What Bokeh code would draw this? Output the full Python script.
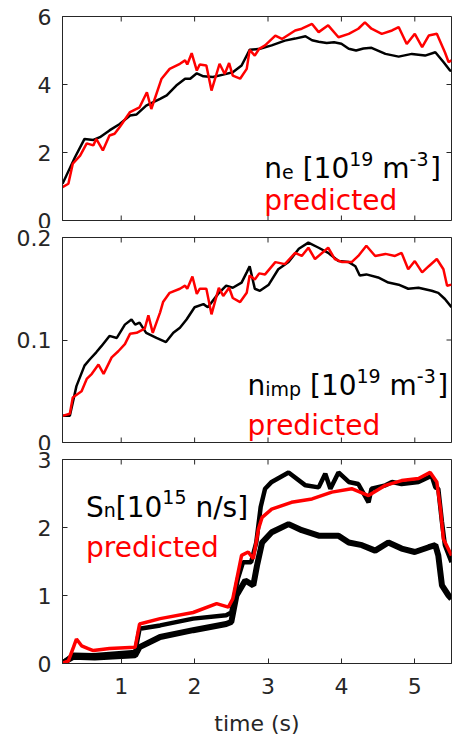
import math
from bokeh.plotting import figure
from bokeh.models import ColumnDataSource, FixedTicker, Range1d
from bokeh.layouts import column
from bokeh.embed import file_html
from bokeh.resources import INLINE
from bokeh.core.properties import value

# ---------------- data ----------------
x_range_vals = [0.2, 5.5]
x_ticks = [1, 2, 3, 4, 5]
x_tick_labels = ["1", "2", "3", "4", "5"]
x_label = "time (s)"

ne_range = [0, 6]
ne_ticks = [0, 2, 4, 6]
ne_tick_labels = ["0", "2", "4", "6"]
nimp_range = [0, 0.2]
nimp_ticks = [0, 0.1, 0.2]
nimp_tick_labels = ["0", "0.1", "0.2"]
sn_range = [0, 3]
sn_ticks = [0, 1, 2, 3]
sn_tick_labels = ["0", "1", "2", "3"]

# panel 1: electron density n_e [1e19 m^-3]
ne_meas_t = [0.20, 0.37, 0.50, 0.62, 0.71, 0.84, 0.98, 1.12, 1.21, 1.34, 1.53, 1.62, 1.75, 1.87, 1.94,
             2.03, 2.12, 2.25, 2.39, 2.52, 2.64, 2.75, 2.89, 3.05, 3.23, 3.37, 3.51, 3.60, 3.69, 3.80,
             3.90, 4.00, 4.10, 4.20, 4.30, 4.41, 4.60, 4.78, 4.96, 5.14, 5.28, 5.39, 5.48, 5.50]
ne_meas = [1.08, 1.86, 2.40, 2.37, 2.45, 2.65, 2.84, 3.09, 3.12, 3.38, 3.58, 3.68, 3.97, 4.17, 4.17,
           4.33, 4.24, 4.22, 4.29, 4.36, 4.56, 5.02, 5.05, 5.15, 5.29, 5.35, 5.42, 5.30, 5.26, 5.22,
           5.24, 5.20, 5.05, 5.00, 5.06, 5.08, 4.90, 4.82, 4.90, 4.85, 4.95, 4.66, 4.41, 4.40]
ne_pred_t = [0.20, 0.28, 0.34, 0.44, 0.53, 0.62, 0.66, 0.75, 0.84, 0.91, 0.98, 1.12, 1.25, 1.35, 1.41,
             1.55, 1.66, 1.80, 1.87, 1.90, 1.96, 2.03, 2.07, 2.16, 2.23, 2.34, 2.41, 2.47, 2.52, 2.62,
             2.71, 2.75, 2.82, 2.88, 2.96, 3.10, 3.19, 3.37, 3.46, 3.60, 3.69, 3.82, 3.96, 4.10, 4.23,
             4.32, 4.41, 4.55, 4.69, 4.78, 4.89, 5.00, 5.10, 5.19, 5.30, 5.41, 5.46, 5.50]
ne_pred = [0.98, 1.08, 1.67, 1.91, 2.27, 2.21, 2.40, 2.06, 2.50, 2.55, 2.75, 3.19, 3.33, 3.77, 3.28,
           4.17, 4.46, 4.61, 4.71, 4.59, 4.92, 4.41, 4.59, 4.56, 3.82, 4.61, 4.31, 4.63, 4.26, 4.17,
           4.46, 5.02, 4.85, 5.05, 5.15, 5.44, 5.34, 5.59, 5.64, 5.78, 5.54, 5.74, 5.39, 5.49, 5.64,
           5.83, 5.64, 5.49, 5.59, 5.69, 5.19, 5.49, 5.10, 5.44, 5.49, 4.95, 4.66, 4.71]

# panel 2: impurity density n_imp [1e19 m^-3]
nimp_meas_t = [0.20, 0.30, 0.39, 0.50, 0.57, 0.66, 0.73, 0.84, 0.94, 1.05, 1.14, 1.19, 1.25, 1.34, 1.48,
               1.61, 1.71, 1.80, 1.89, 2.00, 2.12, 2.18, 2.32, 2.43, 2.52, 2.64, 2.71, 2.75, 2.82, 2.89,
               3.01, 3.14, 3.28, 3.42, 3.55, 3.69, 3.82, 3.96, 4.10, 4.19, 4.25, 4.34, 4.50, 4.64, 4.78,
               4.91, 5.05, 5.23, 5.32, 5.41, 5.50]
nimp_meas = [0.026, 0.026, 0.055, 0.075, 0.081, 0.088, 0.094, 0.104, 0.102, 0.115, 0.120, 0.115, 0.117,
             0.107, 0.102, 0.098, 0.107, 0.112, 0.120, 0.132, 0.135, 0.132, 0.145, 0.153, 0.151, 0.156,
             0.166, 0.172, 0.150, 0.148, 0.154, 0.169, 0.176, 0.189, 0.195, 0.190, 0.185, 0.177, 0.176,
             0.172, 0.163, 0.164, 0.161, 0.156, 0.154, 0.150, 0.151, 0.148, 0.146, 0.140, 0.132]
nimp_pred_t = [0.20, 0.30, 0.34, 0.46, 0.53, 0.60, 0.69, 0.76, 0.87, 0.96, 1.05, 1.12, 1.21, 1.32, 1.37,
               1.43, 1.53, 1.57, 1.66, 1.80, 1.87, 1.90, 1.97, 2.03, 2.07, 2.16, 2.23, 2.33, 2.39, 2.47,
               2.52, 2.62, 2.71, 2.75, 2.82, 2.88, 2.96, 3.10, 3.23, 3.37, 3.46, 3.55, 3.64, 3.82, 3.91,
               4.01, 4.14, 4.23, 4.34, 4.46, 4.60, 4.73, 4.82, 4.91, 5.00, 5.10, 5.19, 5.30, 5.39, 5.44,
               5.50]
nimp_pred = [0.026, 0.028, 0.044, 0.050, 0.062, 0.067, 0.076, 0.067, 0.083, 0.089, 0.096, 0.106, 0.107,
             0.111, 0.124, 0.107, 0.127, 0.137, 0.146, 0.150, 0.153, 0.150, 0.162, 0.145, 0.150, 0.150,
             0.125, 0.151, 0.143, 0.151, 0.141, 0.137, 0.146, 0.163, 0.159, 0.165, 0.164, 0.176, 0.174,
             0.185, 0.182, 0.190, 0.179, 0.190, 0.179, 0.176, 0.176, 0.182, 0.192, 0.182, 0.184, 0.182,
             0.185, 0.169, 0.177, 0.166, 0.172, 0.179, 0.169, 0.153, 0.154]

# panel 3: neutron rate S_n [1e15 n/s]
sn_up_t = [0.19, 0.35, 0.62, 1.19, 1.25, 1.53, 1.98, 2.43, 2.50, 2.59, 2.66, 2.77, 2.84, 2.90, 2.96,
           3.05, 3.28, 3.51, 3.69, 3.78, 3.85, 3.96, 4.10, 4.23, 4.37, 4.41, 4.60, 4.69, 4.82, 5.05,
           5.23, 5.28, 5.32, 5.37, 5.41, 5.50]
sn_up = [0.00, 0.13, 0.12, 0.17, 0.51, 0.56, 0.66, 0.71, 0.75, 1.25, 1.49, 1.49, 1.78, 2.30, 2.57,
         2.67, 2.81, 2.62, 2.59, 2.79, 2.57, 2.81, 2.67, 2.64, 2.37, 2.57, 2.62, 2.67, 2.64, 2.67,
         2.76, 2.59, 2.57, 2.08, 1.74, 1.49]
sn_low_t = [0.19, 0.35, 0.64, 1.19, 1.25, 1.53, 1.98, 2.43, 2.50, 2.57, 2.69, 2.80, 2.85, 2.92, 3.05,
            3.28, 3.46, 3.69, 3.96, 4.10, 4.28, 4.46, 4.64, 4.82, 5.00, 5.19, 5.28, 5.32, 5.37, 5.46,
            5.50]
sn_low = [0.00, 0.10, 0.09, 0.12, 0.24, 0.39, 0.49, 0.58, 0.61, 1.00, 1.22, 1.15, 1.44, 1.78, 1.93,
          2.05, 1.96, 1.88, 1.88, 1.78, 1.74, 1.66, 1.78, 1.69, 1.64, 1.71, 1.74, 1.59, 1.15, 1.00,
          0.95]
sn_pred_t = [0.19, 0.28, 0.35, 0.39, 0.46, 0.55, 0.62, 0.84, 1.19, 1.25, 1.53, 1.98, 2.30, 2.46, 2.52,
             2.64, 2.73, 2.80, 2.87, 2.92, 3.05, 3.32, 3.60, 3.87, 4.14, 4.37, 4.60, 4.82, 5.05, 5.21,
             5.30, 5.35, 5.39, 5.50]
sn_pred = [0.00, 0.04, 0.24, 0.36, 0.26, 0.22, 0.19, 0.22, 0.24, 0.58, 0.66, 0.75, 0.88, 0.83, 0.95,
           1.59, 1.64, 1.54, 1.98, 2.15, 2.27, 2.37, 2.42, 2.52, 2.57, 2.47, 2.62, 2.69, 2.72, 2.81,
           2.67, 2.27, 1.83, 1.59]

# ---------------- styling ----------------
FONT = "DejaVu Sans"
AXC = "#262626"
RED = "#ff0000"
BLACK = "#000000"
MAIN = 28
SMALL = 19
# DejaVu Sans advance widths (em)
ADV = {"n": 0.634, "e": 0.615, "[": 0.390, "]": 0.390, "m": 0.974, "-": 0.361, "S": 0.635,
       "/": 0.337, "s": 0.521, "i": 0.278, "p": 0.635, " ": 0.318}
for d in "0123456789":
    ADV[d] = 0.636


def width(txt, size):
    return sum(ADV.get(c, 0.6) for c in txt) * size


def make_fig(height, top, bottom, yr, yticks, ylabels, show_x):
    p = figure(width=452, height=height, x_range=Range1d(*x_range_vals), y_range=Range1d(*yr),
               output_backend="svg", toolbar_location=None,
               min_border_left=62, min_border_right=1, min_border_top=top, min_border_bottom=bottom)
    p.grid.visible = False
    p.outline_line_color = AXC
    p.outline_line_width = 1
    p.background_fill_color = "white"
    p.border_fill_color = "white"
    p.xaxis.ticker = FixedTicker(ticks=x_ticks)
    p.yaxis.ticker = FixedTicker(ticks=yticks)
    for ax in p.axis:
        ax.axis_line_color = AXC
        ax.major_tick_line_color = AXC
        ax.major_tick_in = 5
        ax.major_tick_out = 0
        ax.minor_tick_line_color = None
        ax.major_label_text_font = FONT
        ax.major_label_text_color = AXC
        ax.major_label_text_font_size = "22px"
    left = p.left[0]
    left.major_label_standoff = 11
    left.major_label_overrides = {t: l for t, l in zip(yticks, ylabels)}
    bot = p.below[0]
    if show_x:
        bot.major_label_standoff = 14
        bot.major_label_overrides = {t: l for t, l in zip(x_ticks, x_tick_labels)}
        bot.axis_label = x_label
        bot.axis_label_text_font = FONT
        bot.axis_label_text_font_size = "22px"
        bot.axis_label_text_font_style = "normal"
        bot.axis_label_text_color = AXC
        bot.axis_label_standoff = 14
    else:
        bot.visible = False
        # inward bottom ticks (outer half is clipped by the frame)
        p.scatter(x=x_ticks, y=[yr[0]] * len(x_ticks), marker="dash", size=10, angle=math.pi / 2,
                  line_color=AXC, line_width=1)
    # inward top ticks and right ticks (outer half clipped by the frame)
    p.scatter(x=x_ticks, y=[yr[1]] * len(x_ticks), marker="dash", size=10, angle=math.pi / 2,
              line_color=AXC, line_width=1)
    p.scatter(x=[x_range_vals[1]] * len(yticks), y=yticks, marker="dash", size=10,
              line_color=AXC, line_width=1)
    return p


def annotate(p, x, y_main, y_pred, parts):
    # parts: list of (text, kind, gap_before in em)
    xs, ys, txt, xo, yo, fs, col = [], [], [], [], [], [], []
    off = 0.0
    for text, kind, gap in parts:
        size = MAIN if kind == "main" else SMALL
        off += gap * MAIN
        dy = 0 if kind == "main" else (-10 if kind == "sup" else 3)
        xs.append(x); ys.append(y_main); txt.append(text); xo.append(off); yo.append(dy)
        fs.append(f"{size}px"); col.append(BLACK)
        off += width(text, size)
    xs.append(x); ys.append(y_pred); txt.append("predicted"); xo.append(0); yo.append(0)
    fs.append(f"{MAIN}px"); col.append(RED)
    src = ColumnDataSource(dict(x=xs, y=ys, text=txt, xo=xo, yo=yo, fs=fs, col=col))
    p.text(x="x", y="y", text="text", x_offset="xo", y_offset="yo", text_font_size="fs",
           text_color="col", text_font=value(FONT), text_align="left",
           text_baseline="alphabetic", source=src)


# panel 1
p1 = make_fig(228, 16, 8, ne_range, ne_ticks, ne_tick_labels, False)
p1.line(ne_meas_t, ne_meas, color=BLACK, line_width=2.5)
p1.line(ne_pred_t, ne_pred, color=RED, line_width=2.5)
annotate(p1, 2.95, 1.52, 0.59,
         [("n", "main", 0), ("e", "sub", 0), ("[10", "main", 0.318), ("19", "sup", 0),
          ("m", "main", 0.318), ("-3", "sup", 0), ("]", "main", 0.05)])

# panel 2
p2 = make_fig(222, 9, 8, nimp_range, nimp_ticks, nimp_tick_labels, False)
p2.line(nimp_meas_t, nimp_meas, color=BLACK, line_width=2.5)
p2.line(nimp_pred_t, nimp_pred, color=RED, line_width=2.5)
annotate(p2, 2.72, 0.0556, 0.0166,
         [("n", "main", 0), ("imp", "sub", 0), ("[10", "main", 0.318), ("19", "sup", 0),
          ("m", "main", 0.318), ("-3", "sup", 0), ("]", "main", 0.05)])

# panel 3 (its bottom border runs past the page edge, so the axis title is cut as in the reference)
p3 = make_fig(294, 9, 81, sn_range, sn_ticks, sn_tick_labels, True)
p3.line(sn_low_t, sn_low, color=BLACK, line_width=6)
p3.line(sn_up_t, sn_up, color=BLACK, line_width=4.5)
p3.line(sn_pred_t, sn_pred, color=RED, line_width=3.5)
annotate(p3, 0.52, 2.30, 1.71,
         [("S", "main", 0), ("n", "sub", 0), ("[10", "main", 0.0), ("15", "sup", 0),
          ("n/s", "main", 0.318), ("]", "main", 0.0)])

layout = column(p1, p2, p3, spacing=0, width=452, height=735, styles={"overflow": "hidden"})
open("out.html", "w").write(file_html(layout, INLINE))
